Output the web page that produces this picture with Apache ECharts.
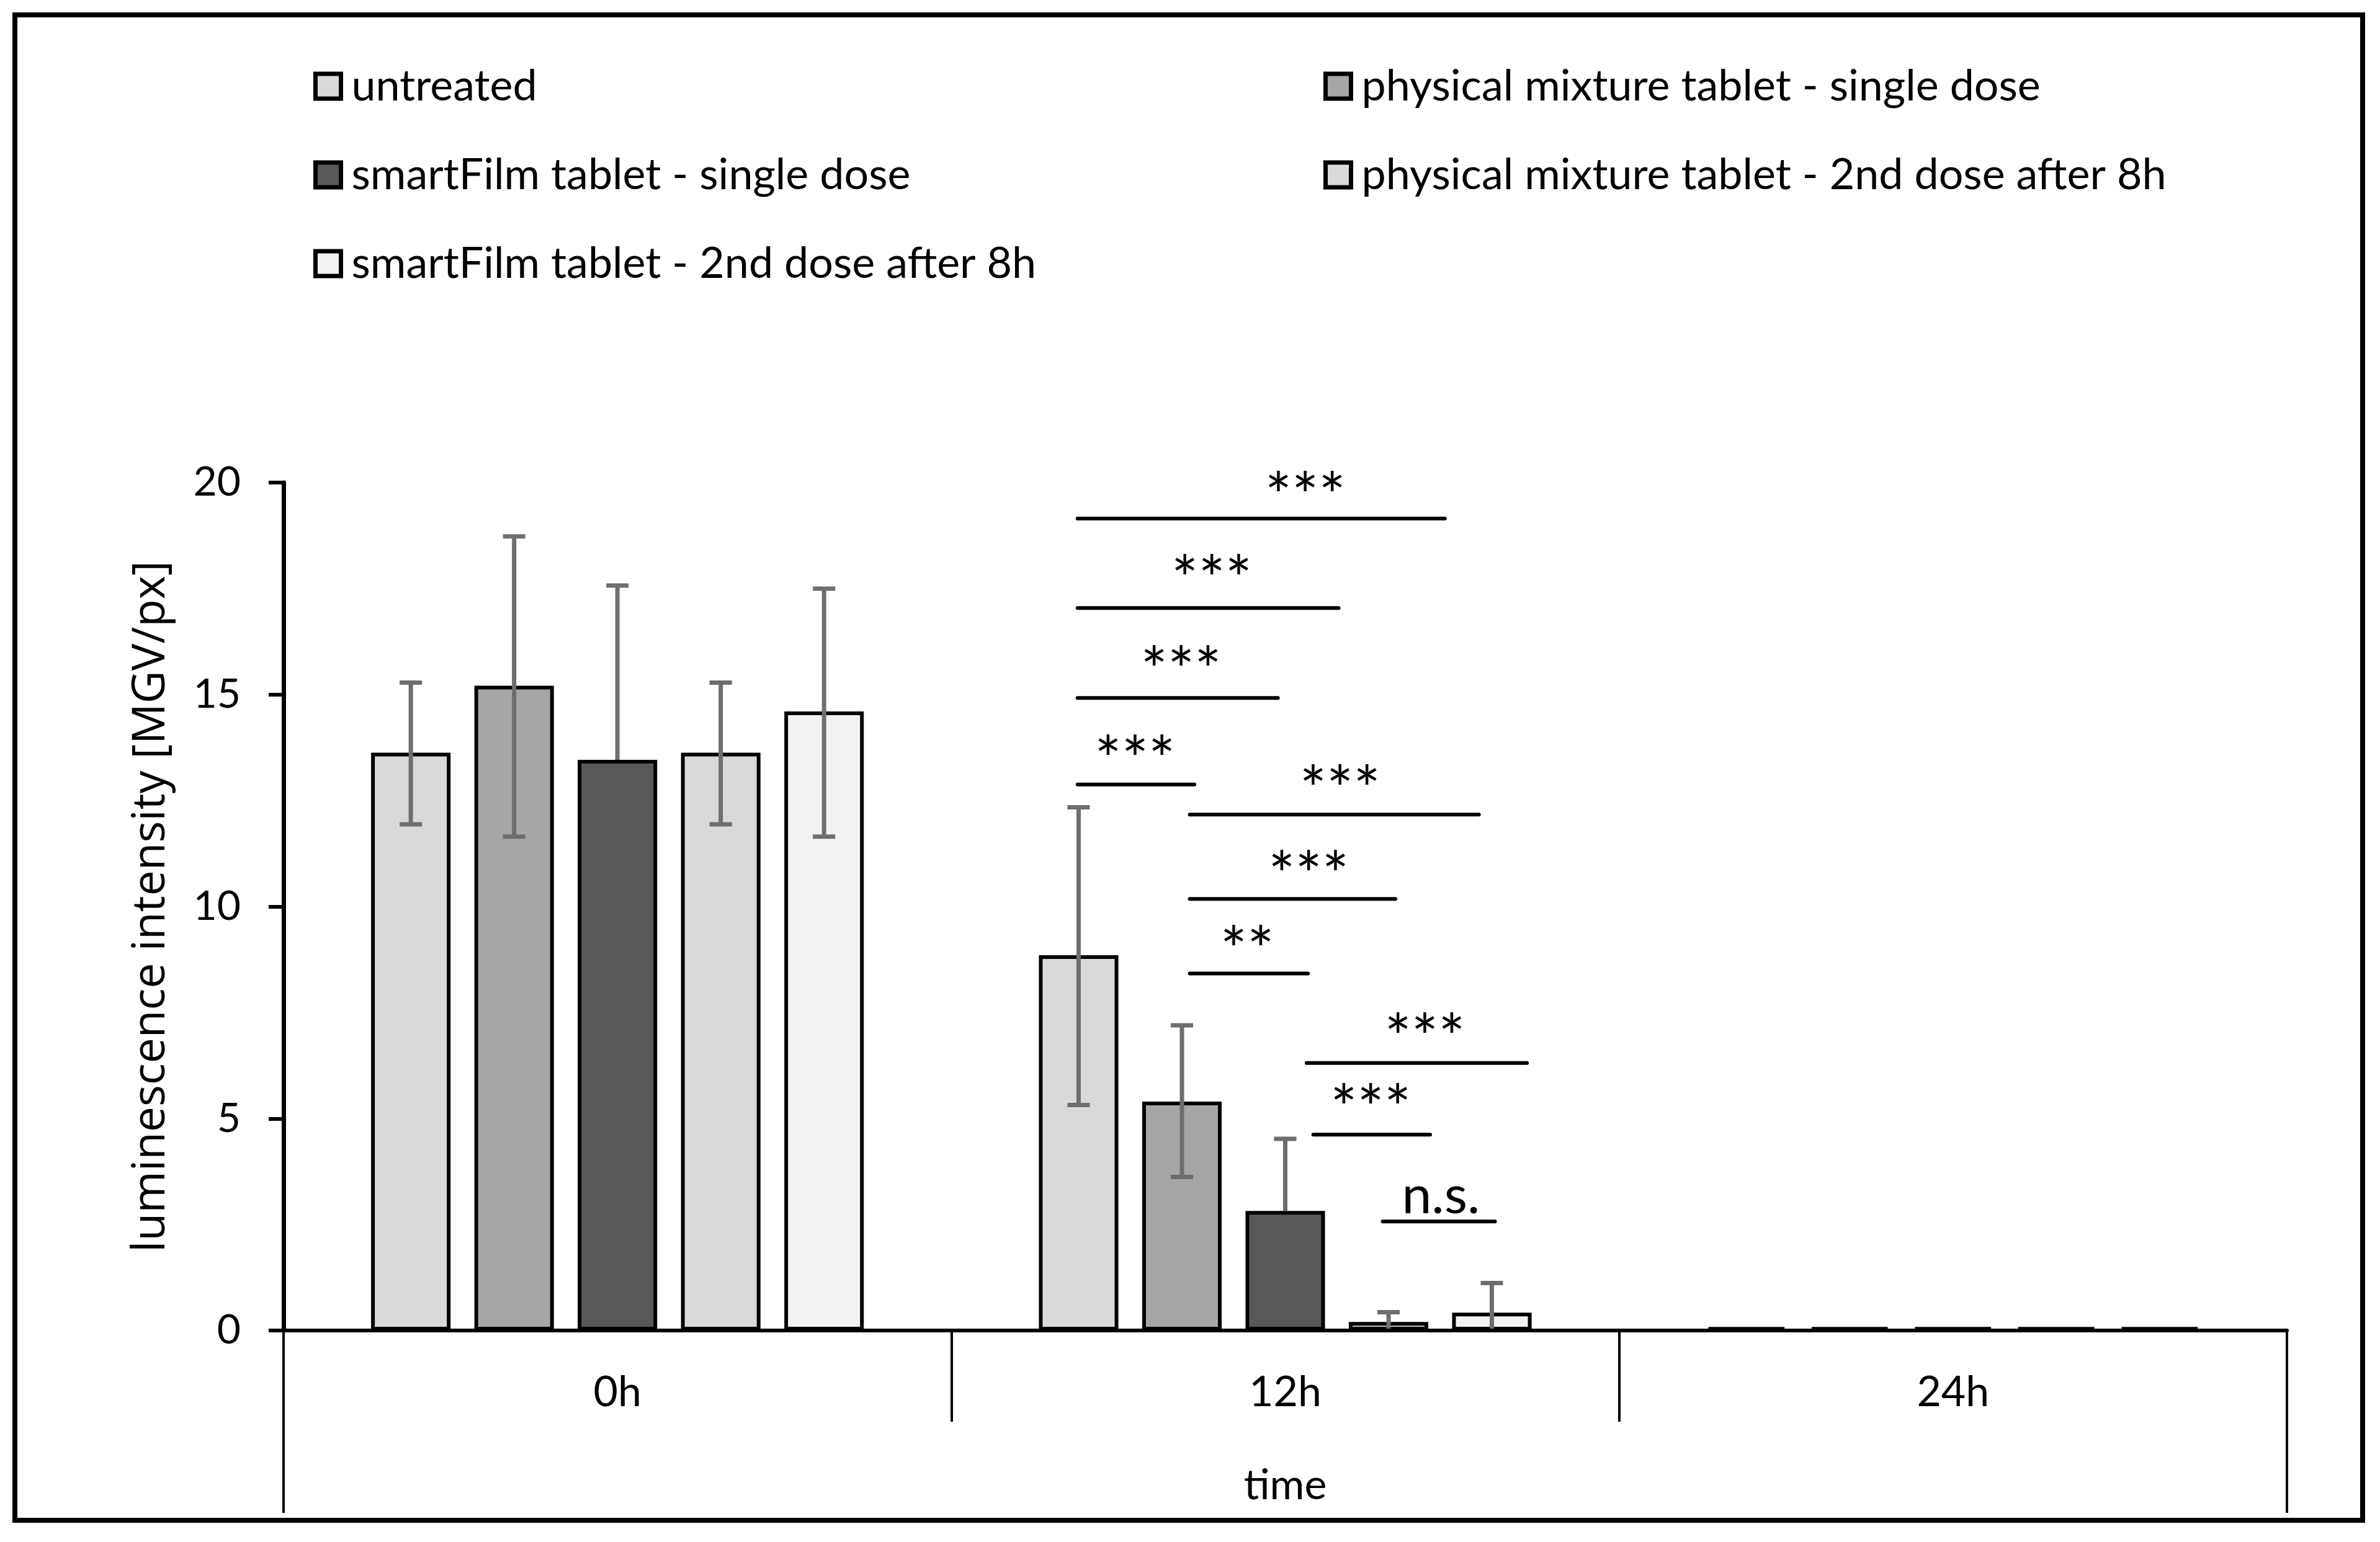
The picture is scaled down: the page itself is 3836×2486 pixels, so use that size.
<!DOCTYPE html>
<html>
<head>
<meta charset="utf-8">
<script src="https://cdn.jsdelivr.net/npm/echarts@6/dist/echarts.min.js"></script>
<style>
html,body{margin:0;padding:0;background:#fff;}
#chart{width:3836px;height:2486px;}
</style>
</head>
<body>
<div id="chart"></div>
<script>
// ---------- data ----------
const categories = ['0h', '12h', '24h'];
const seriesNames = [
  'untreated',
  'physical mixture tablet - single dose',
  'smartFilm tablet - single dose',
  'physical mixture tablet - 2nd dose after 8h',
  'smartFilm tablet - 2nd dose after 8h'
];
const untreated   = [13.63, 8.85, 0.08];
const physSingle  = [15.21, 5.40, 0.08];
const smartSingle = [13.46, 2.82, 0.08];
const phys2nd     = [13.63, 0.20, 0.08];
const smart2nd    = [14.60, 0.42, 0.08];

const untreatedErrPlus   = [1.65, 3.49, 0];
const untreatedErrMinus  = [1.69, 3.53, 0];
const physSingleErrPlus  = [3.52, 1.80, 0];
const physSingleErrMinus = [3.56, 1.78, 0];
const smartSingleErrPlus = [4.11, 1.70, 0];
const smartSingleErrMinus= [0, 0, 0];
const phys2ndErrPlus     = [1.65, 0.23, 0];
const phys2ndErrMinus    = [1.69, 0.20, 0];
const smart2ndErrPlus    = [2.90, 0.70, 0];
const smart2ndErrMinus   = [2.95, 0.42, 0];

const yTicks = [0, 5, 10, 15, 20];
const xGroupLabel = ['time'];

// significance brackets: [x start, x end, y] in (x: 0..3 across the category axis, y: axis units)
const sigLines = [
  [1.189, 1.739, 19.15],
  [1.189, 1.580, 17.04],
  [1.189, 1.489, 14.92],
  [1.189, 1.364, 12.88],
  [1.357, 1.790, 12.17],
  [1.357, 1.665, 10.18],
  [1.357, 1.534, 8.42],
  [1.532, 1.862, 6.31],
  [1.542, 1.717, 4.62],
  [1.646, 1.814, 2.57]
];
const sigLabelX = [1.530, 1.390, 1.344, 1.275, 1.582, 1.535, 1.443, 1.709, 1.628, 1.733];
const sigLabelY = [19.98, 18.02, 15.87, 13.77, 13.06, 11.04, 9.28, 7.21, 5.55, 3.17];
const sigLabelText = ['***', '***', '***', '***', '***', '***', '**', '***', '***', 'n.s.'];

// ---------- styles ----------
const colors = ['#d9d9d9', '#a6a6a6', '#595959', '#d9d9d9', '#f2f2f2'];
const values = [untreated, physSingle, smartSingle, phys2nd, smart2nd];
const errPlus = [untreatedErrPlus, physSingleErrPlus, smartSingleErrPlus, phys2ndErrPlus, smart2ndErrPlus];
const errMinus = [untreatedErrMinus, physSingleErrMinus, smartSingleErrMinus, phys2ndErrMinus, smart2ndErrMinus];
const BAR_FRAC = 0.119;   // bar width as fraction of category band
const BAR_GAP = 0.30;     // gap between bars relative to bar width
const FONT_C = 'Lato, "Noto Sans", sans-serif';

const chart = echarts.init(document.getElementById('chart'), null, {renderer: 'canvas'});

const barSeries = seriesNames.map((name, i) => ({
  name: name,
  type: 'bar',
  xAxisIndex: 0,
  yAxisIndex: 0,
  data: values[i],
  barWidth: (BAR_FRAC * 100) + '%',
  barGap: (BAR_GAP * 100) + '%',
  itemStyle: {color: colors[i], borderColor: '#000', borderWidth: 6},
  z: 2,
  silent: true,
  animation: false
}));

const errSeries = seriesNames.map((name, i) => ({
  type: 'custom',
  xAxisIndex: 0,
  yAxisIndex: 0,
  z: 4,
  silent: true,
  animation: false,
  data: values[i].map((v, k) => [k, v, errPlus[i][k], errMinus[i][k]]),
  renderItem: function (params, api) {
    const k = api.value(0), v = api.value(1), p = api.value(2), m = api.value(3);
    if (p <= 0 && m <= 0) return null;
    const band = api.size([1, 0])[0];
    const bw = band * BAR_FRAC;
    const pitch = bw * (1 + BAR_GAP);
    const c = api.coord([k, v]);
    const x = c[0] + (i - 2) * pitch;
    const top = api.coord([k, v + p])[1];
    const lowVal = v - m;
    const bot = api.coord([k, Math.max(lowVal, 0)])[1];
    const capHalf = 18;
    const st = {stroke: '#6e6e6e', lineWidth: 7};
    const children = [
      {type: 'line', shape: {x1: x, y1: top, x2: x, y2: m > 0 ? bot : c[1]}, style: st},
      {type: 'line', shape: {x1: x - capHalf, y1: top, x2: x + capHalf, y2: top}, style: st}
    ];
    if (m > 0 && lowVal > 0.05) {
      children.push({type: 'line', shape: {x1: x - capHalf, y1: bot, x2: x + capHalf, y2: bot}, style: st});
    }
    return {type: 'group', children: children};
  }
}));

const sigLineSeries = {
  type: 'custom',
  xAxisIndex: 2,
  yAxisIndex: 0,
  z: 5,
  silent: true,
  animation: false,
  data: sigLines,
  renderItem: function (params, api) {
    const a = api.coord([api.value(0), api.value(2)]);
    const b = api.coord([api.value(1), api.value(2)]);
    return {type: 'line', shape: {x1: a[0], y1: a[1], x2: b[0], y2: b[1]},
            style: {stroke: '#000', lineWidth: 6, lineCap: 'round'}};
  }
};

const sigTextSeries = {
  type: 'custom',
  xAxisIndex: 2,
  yAxisIndex: 0,
  z: 5,
  silent: true,
  animation: false,
  data: sigLabelX.map((x, k) => [x, sigLabelY[k]]),
  renderItem: function (params, api) {
    const t = sigLabelText[params.dataIndex];
    const p = api.coord([api.value(0), api.value(1)]);
    const isStar = t.indexOf('*') >= 0;
    return {type: 'text', x: p[0], y: p[1] + (isStar ? 24 : 0),
            style: {text: t, fill: '#000', font: (isStar ? '102px ' : '86px ') + FONT_C, align: 'center', verticalAlign: 'middle'}};
  }
};

const legendCommon = {
  orient: 'vertical',
  top: 99,
  itemWidth: 41,
  itemHeight: 40,
  itemGap: 73,
  icon: 'rect',
  selectedMode: false,
  itemStyle: {borderColor: '#000', borderWidth: 7},
  textStyle: {fontFamily: FONT_C, fontSize: 70, color: '#000', padding: [0, 0, 0, 12]}
};

const option = {
  backgroundColor: '#fff',
  animation: false,
  legend: [
    Object.assign({}, legendCommon, {left: 500, data: [seriesNames[0], seriesNames[2], seriesNames[4]]}),
    Object.assign({}, legendCommon, {left: 2128, data: [seriesNames[1], seriesNames[3]]})
  ],
  grid: {left: 457, right: 150, top: 778, bottom: 341, containLabel: false},
  xAxis: [
    {
      type: 'category',
      data: categories,
      position: 'bottom',
      offset: 0,
      axisLine: {show: true, onZero: false, lineStyle: {color: '#000', width: 6}},
      axisTick: {show: true, alignWithLabel: false, interval: 0, length: 147, lineStyle: {color: '#000', width: 4}},
      axisLabel: {show: true, interval: 0, margin: 66, fontFamily: FONT_C, fontSize: 68, color: '#000'},
      splitLine: {show: false},
      z: 6
    },
    {
      type: 'category',
      data: xGroupLabel,
      position: 'bottom',
      offset: 0,
      axisLine: {show: false},
      axisTick: {show: true, interval: 0, length: 294, lineStyle: {color: '#000', width: 4}},
      axisLabel: {show: true, margin: 216, fontFamily: FONT_C, fontSize: 68, color: '#000'},
      splitLine: {show: false}
    },
    {
      type: 'value',
      min: 0,
      max: 3,
      show: false
    }
  ],
  yAxis: {
    type: 'value',
    min: yTicks[0],
    max: yTicks[yTicks.length - 1],
    interval: yTicks[1] - yTicks[0],
    name: 'luminescence intensity [MGV/px]',
    nameLocation: 'middle',
    nameGap: 176,
    nameTextStyle: {fontFamily: '"Open Sans", sans-serif', fontSize: 73, color: '#000'},
    axisLine: {show: true, lineStyle: {color: '#000', width: 7}},
    axisTick: {show: true, inside: false, length: 24, lineStyle: {color: '#000', width: 6}},
    axisLabel: {margin: 69, fontFamily: FONT_C, fontSize: 66, color: '#000'},
    splitLine: {show: false},
    z: 6
  },
  graphic: [{
    type: 'rect',
    shape: {x: 24, y: 24, width: 3784, height: 2427},
    style: {fill: 'none', stroke: '#000', lineWidth: 8},
    silent: true,
    z: 100
  }],
  series: barSeries.concat(errSeries, [sigLineSeries, sigTextSeries])
};

chart.setOption(option);
</script>
</body>
</html>
